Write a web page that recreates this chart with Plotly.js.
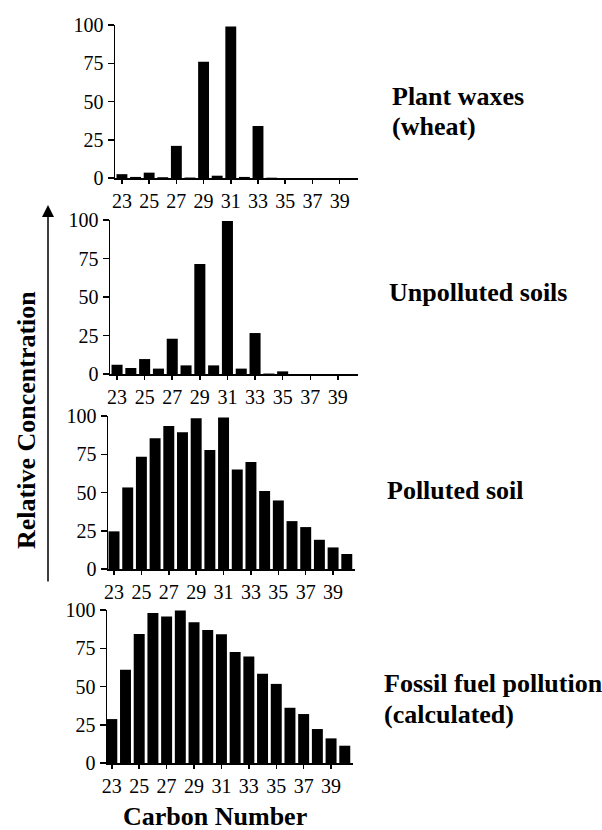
<!DOCTYPE html>
<html>
<head>
<meta charset="utf-8">
<script src="https://cdn.plot.ly/plotly-3.0.1.min.js"></script>
<style>html,body{margin:0;padding:0;background:#fff;}</style>
</head>
<body>
<div id="chart" style="width:602px;height:830px;"></div>
<script>
const carbon = [23,24,25,26,27,28,29,30,31,32,33,34,35,36,37,38,39,40];
const xTicks = [23,25,27,29,31,33,35,37,39];
const yTicks = [0,25,50,75,100];
const plantWaxes = [2.5,0.7,3.5,0.5,21,0.3,76,1.5,99,0.7,34,0.2,0,0,0,0,0,0];
const unpollutedSoils = [6,3.9,9.7,3.5,22.9,5.6,71.5,5.6,99.4,3.5,26.6,0.3,1.7,0,0,0,0,0];
const pollutedSoil = [24.6,53.3,73.3,85.4,93.5,89.3,98.5,77.8,99.1,65,70,51,44.8,31.3,27.4,19.1,14.1,9.8];
const fossilFuel = [28.7,60.9,84.3,98,95.7,99.6,92,87,84.1,72.6,69.6,58.3,51.7,36.1,32,22.2,16.1,11.3];
const panelLabels = [["Plant waxes","(wheat)"],["Unpolluted soils"],["Polluted soil"],["Fossil fuel pollution","(calculated)"]];

const W = 602, H = 830;
// pixel geometry of each panel: x-axis left/right px, data range, y px of 0 and 100
const panels = [
  {xl:115, xr:358, r0:22.49, r1:40.35, y0:178, y100:25, data:plantWaxes},
  {xl:110, xr:358, r0:22.49, r1:40.46, y0:374, y100:220, data:unpollutedSoils},
  {xl:108, xr:355, r0:22.56, r1:40.6, y0:569, y100:416, data:pollutedSoil},
  {xl:107, xr:353, r0:22.65, r1:40.6, y0:763, y100:610, data:fossilFuel}
];

const serif = "'Liberation Serif', 'Times New Roman', serif";
const traces = [];
const layout = {
  width: W, height: H, autosize: false,
  margin: {l:0, r:0, t:0, b:0},
  paper_bgcolor: "#fff", plot_bgcolor: "#fff",
  showlegend: false,
  annotations: [], shapes: []
};

panels.forEach((p, i) => {
  const n = i === 0 ? "" : String(i + 1);
  traces.push({
    type: "bar", x: carbon, y: p.data, width: 0.8,
    marker: {color: "#000", line: {width: 0}},
    xaxis: "x" + n, yaxis: "y" + n, hoverinfo: "x+y"
  });
  layout["xaxis" + n] = {
    domain: [p.xl / W, p.xr / W], range: [p.r0, p.r1], anchor: "y" + n,
    tickvals: xTicks, ticktext: xTicks.map(String),
    ticks: "outside", ticklen: 4, tickwidth: 1.5, tickcolor: "#000",
    showline: true, linewidth: 1.5, linecolor: "#000",
    showgrid: false, zeroline: false, fixedrange: true,
    tickfont: {family: serif, size: 20, color: "#000"}
  };
  layout["yaxis" + n] = {
    domain: [1 - p.y0 / H, 1 - p.y100 / H], range: [0, 100], anchor: "x" + n,
    tickvals: yTicks, ticktext: yTicks.map(String),
    ticks: "outside", ticklen: 6, tickwidth: 1.5, tickcolor: "#000",
    showline: true, linewidth: 1.5, linecolor: "#000",
    showgrid: false, zeroline: false, fixedrange: true,
    tickfont: {family: serif, size: 20, color: "#000"}
  };
});

// right-hand labels
const labelPos = [
  {x:390, ys:[96,127]},
  {x:387, ys:[292]},
  {x:385, ys:[490]},
  {x:382, ys:[683,714]}
];
panelLabels.forEach((lines, i) => {
  lines.forEach((t, j) => {
    layout.annotations.push({
      xref: "paper", yref: "paper",
      x: labelPos[i].x / W, y: 1 - labelPos[i].ys[j] / H,
      xanchor: "left", yanchor: "middle", showarrow: false,
      text: "<b>" + t + "</b>",
      font: {family: serif, size: 26, color: "#000"}
    });
  });
});

// shared axis titles
layout.annotations.push({
  xref: "paper", yref: "paper", x: 27 / W, y: 1 - 420 / H,
  xanchor: "center", yanchor: "middle", showarrow: false, textangle: -90,
  text: "<b>Relative Concentration</b>",
  font: {family: serif, size: 26, color: "#000"}
});
layout.annotations.push({
  xref: "paper", yref: "paper", x: 215 / W, y: 1 - 816 / H,
  xanchor: "center", yanchor: "middle", showarrow: false,
  text: "<b>Carbon Number</b>",
  font: {family: serif, size: 26, color: "#000"}
});
// arrow
layout.annotations.push({
  xref: "paper", yref: "paper", x: 48 / W, y: 1 - 205 / H,
  ax: 0, ay: 378, axref: "pixel", ayref: "pixel",
  showarrow: true, text: "", arrowhead: 2, arrowsize: 1.6, arrowwidth: 1.5, arrowcolor: "#000"
});

Plotly.newPlot("chart", traces, layout, {displayModeBar: false, staticPlot: true});
</script>
</body>
</html>
